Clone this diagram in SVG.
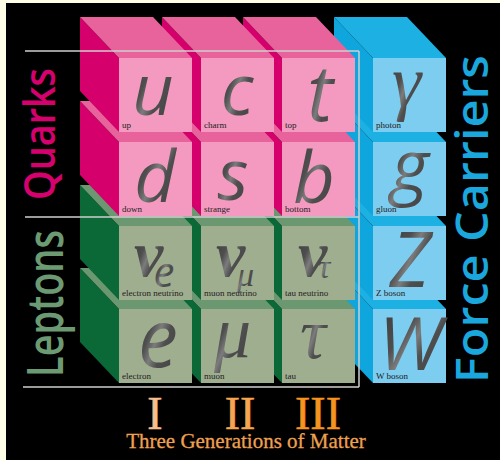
<svg xmlns="http://www.w3.org/2000/svg" width="500" height="460" viewBox="0 0 500 460">
<defs>
<linearGradient id="metal" x1="0" y1="0" x2="1" y2="1">
<stop offset="0" stop-color="#383838"/>
<stop offset="0.38" stop-color="#4e4e4e"/>
<stop offset="0.5" stop-color="#7c7c7c"/>
<stop offset="0.62" stop-color="#4e4e4e"/>
<stop offset="1" stop-color="#404040"/>
</linearGradient>
</defs>
<style>
.pink .side{fill:#d5006c}.pink .top{fill:#e8639b}.pink .front{fill:#f49ac0}
.green .side{fill:#0b6837}.green .top{fill:#6b9871}.green .front{fill:#9fae8f}
.blue .side{fill:#0ea6dd}.blue .top{fill:#1db0e3}.blue .front{fill:#7dcdf0}
.lbl{font-family:"Liberation Serif","Times New Roman",serif;font-size:9px;fill:#222}
.sym{font-family:"Open Sans","Liberation Sans",sans-serif;font-style:italic;fill:url(#metal);text-anchor:middle}
.gr{font-family:"Liberation Serif","Times New Roman",serif;font-style:italic;fill:url(#metal)}
.nu{font-weight:bold}
.big{font-family:"Open Sans","Liberation Sans",sans-serif;font-weight:600}
.rom{font-family:"Liberation Serif","Times New Roman",serif;text-anchor:middle}
.frame line{stroke:#cfcfcf;stroke-width:1.5}
</style>
<rect x="0" y="0" width="500" height="460" fill="#ffffe8"/>
<rect x="6" y="3" width="494" height="457" fill="#000"/>

<!-- blue column -->
<g id="cube-W" class="blue"><g transform="translate(373,309)"><polygon class="side" points="0,0 -39,-41 -39,33 0,74"/><polygon class="top" points="0,0 73,0 34,-41 -39,-41"/><rect class="front" width="73" height="74"/></g><text class="sym" x="410" y="370" font-size="74">W</text><text class="lbl" x="376" y="379">W boson</text></g>
<g id="cube-Z" class="blue"><g transform="translate(373,226)"><polygon class="side" points="0,0 -39,-41 -39,33 0,74"/><polygon class="top" points="0,0 73,0 34,-41 -39,-41"/><rect class="front" width="73" height="74"/></g><text class="sym" x="410" y="287" font-size="76">Z</text><text class="lbl" x="376" y="296">Z boson</text></g>
<g id="cube-g" class="blue"><g transform="translate(373,142)"><polygon class="side" points="0,0 -39,-41 -39,33 0,74"/><polygon class="top" points="0,0 73,0 34,-41 -39,-41"/><rect class="front" width="73" height="74"/></g><text class="sym" x="410" y="191" font-size="72">g</text><text class="lbl" x="376" y="212">gluon</text></g>
<g id="cube-gamma" class="blue"><g transform="translate(373,58)"><polygon class="side" points="0,0 -39,-41 -39,33 0,74"/><polygon class="top" points="0,0 73,0 34,-41 -39,-41"/><rect class="front" width="73" height="74"/></g><text class="gr" x="392" y="106" font-size="74">γ</text><text class="lbl" x="376" y="128">photon</text></g>

<!-- third generation -->
<g id="cube-tau" class="green"><g transform="translate(282,309)"><polygon class="side" points="0,0 -39,-41 -39,33 0,74"/><polygon class="top" points="0,0 73,0 34,-41 -39,-41"/><rect class="front" width="73" height="74"/></g><text class="gr" x="300" y="358" font-size="72">τ</text><text class="lbl" x="285" y="379">tau</text></g>
<g id="cube-nutau" class="green"><g transform="translate(282,226)"><polygon class="side" points="0,0 -39,-41 -39,33 0,74"/><polygon class="top" points="0,0 73,0 34,-41 -39,-41"/><rect class="front" width="73" height="74"/></g><text class="gr nu" x="298" y="276" font-size="66">ν</text><text class="gr" x="318" y="278" font-size="34">τ</text><text class="lbl" x="285" y="296">tau neutrino</text></g>
<g id="cube-b" class="pink"><g transform="translate(282,142)"><polygon class="side" points="0,0 -39,-41 -39,33 0,74"/><polygon class="top" points="0,0 73,0 34,-41 -39,-41"/><rect class="front" width="73" height="74"/></g><text class="sym" x="314" y="203" font-size="72">b</text><text class="lbl" x="285" y="212">bottom</text></g>
<g id="cube-t" class="pink"><g transform="translate(282,58)"><polygon class="side" points="0,0 -39,-41 -39,33 0,74"/><polygon class="top" points="0,0 73,0 34,-41 -39,-41"/><rect class="front" width="73" height="74"/></g><text class="sym" x="320" y="121" font-size="78">t</text><text class="lbl" x="285" y="128">top</text></g>

<!-- second generation -->
<g id="cube-mu" class="green"><g transform="translate(201,309)"><polygon class="side" points="0,0 -39,-41 -39,33 0,74"/><polygon class="top" points="0,0 73,0 34,-41 -39,-41"/><rect class="front" width="73" height="74"/></g><text class="gr" x="214" y="357" font-size="74">μ</text><text class="lbl" x="204" y="379">muon</text></g>
<g id="cube-numu" class="green"><g transform="translate(201,226)"><polygon class="side" points="0,0 -39,-41 -39,33 0,74"/><polygon class="top" points="0,0 73,0 34,-41 -39,-41"/><rect class="front" width="73" height="74"/></g><text class="gr nu" x="216" y="276" font-size="66">ν</text><text class="gr" x="237" y="286" font-size="34">μ</text><text class="lbl" x="204" y="296">muon neutrino</text></g>
<g id="cube-s" class="pink"><g transform="translate(201,142)"><polygon class="side" points="0,0 -39,-41 -39,33 0,74"/><polygon class="top" points="0,0 73,0 34,-41 -39,-41"/><rect class="front" width="73" height="74"/></g><text class="sym" x="233" y="200" font-size="72">s</text><text class="lbl" x="204" y="212">strange</text></g>
<g id="cube-c" class="pink"><g transform="translate(201,58)"><polygon class="side" points="0,0 -39,-41 -39,33 0,74"/><polygon class="top" points="0,0 73,0 34,-41 -39,-41"/><rect class="front" width="73" height="74"/></g><text class="sym" x="237" y="115" font-size="72">c</text><text class="lbl" x="204" y="128">charm</text></g>

<!-- first generation -->
<g id="cube-e" class="green"><g transform="translate(119,309)"><polygon class="side" points="0,0 -39,-41 -39,33 0,74"/><polygon class="top" points="0,0 73,0 34,-41 -39,-41"/><rect class="front" width="73" height="74"/></g><text class="sym" x="158" y="367" font-size="80">e</text><text class="lbl" x="122" y="379">electron</text></g>
<g id="cube-nue" class="green"><g transform="translate(119,226)"><polygon class="side" points="0,0 -39,-41 -39,33 0,74"/><polygon class="top" points="0,0 73,0 34,-41 -39,-41"/><rect class="front" width="73" height="74"/></g><text class="gr nu" x="134" y="276" font-size="66">ν</text><text class="sym" x="164" y="287" font-size="42">e</text><text class="lbl" x="122" y="296">electron neutrino</text></g>
<g id="cube-d" class="pink"><g transform="translate(119,142)"><polygon class="side" points="0,0 -39,-41 -39,33 0,74"/><polygon class="top" points="0,0 73,0 34,-41 -39,-41"/><rect class="front" width="73" height="74"/></g><text class="sym" x="155" y="202" font-size="72">d</text><text class="lbl" x="122" y="212">down</text></g>
<g id="cube-u" class="pink"><g transform="translate(119,58)"><polygon class="side" points="0,0 -39,-41 -39,33 0,74"/><polygon class="top" points="0,0 73,0 34,-41 -39,-41"/><rect class="front" width="73" height="74"/></g><text class="sym" x="153" y="115" font-size="72">u</text><text class="lbl" x="122" y="128">up</text></g>

<g id="connectors" class="frame">
<line x1="25" y1="51" x2="359" y2="51"/>
<line x1="25" y1="217" x2="359" y2="217"/>
<line x1="23" y1="387" x2="359" y2="387"/>
<line x1="359" y1="51" x2="359" y2="387"/>
</g>

<g id="label-quarks"><text class="big" transform="translate(55,200) rotate(-90)" font-size="44" fill="#d6006e" textLength="132" lengthAdjust="spacingAndGlyphs">Quarks</text></g>
<g id="label-leptons"><text class="big" transform="translate(63,377) rotate(-90)" font-size="50" fill="#6c9a72" textLength="147" lengthAdjust="spacingAndGlyphs">Leptons</text></g>
<g id="label-force"><text class="big" transform="translate(488,383) rotate(-90)" font-size="46" fill="#1aa7dd" textLength="328" lengthAdjust="spacingAndGlyphs">Force Carriers</text></g>

<g id="generations">
<text class="rom" x="155" y="429" font-size="46" fill="#f8bf8e" stroke="#f8bf8e" stroke-width="0.6">I</text>
<text class="rom" x="240" y="429" font-size="46" fill="#f6a650" stroke="#f6a650" stroke-width="0.6">II</text>
<text class="rom" x="318" y="429" font-size="46" fill="#f6941f" stroke="#f6941f" stroke-width="0.6">III</text>
<text class="rom" x="246" y="448" font-size="21" fill="#efa050" stroke="#efa050" stroke-width="0.3">Three Generations of Matter</text>
</g>
</svg>
